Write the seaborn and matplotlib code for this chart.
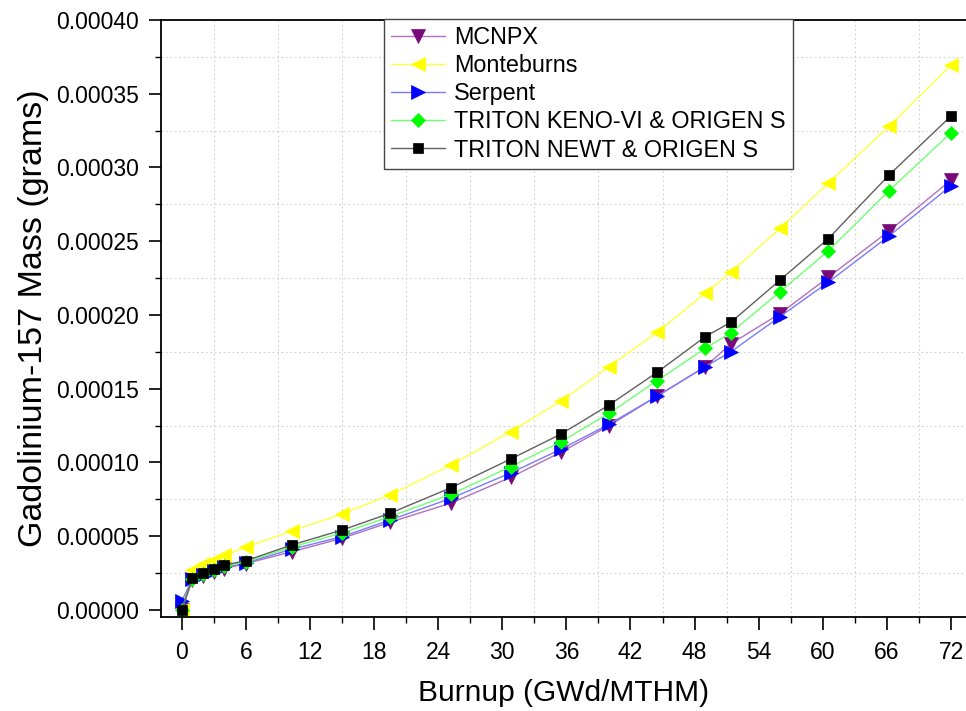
import matplotlib
matplotlib.use("Agg")
import matplotlib.pyplot as plt
import seaborn as sns
import pandas as pd
from matplotlib.ticker import MultipleLocator, FormatStrFormatter

# ---- data ----
burnup = [0, 1, 2, 3, 4, 6, 10.3, 15, 19.5, 25.2, 30.8, 35.5, 40, 44.5, 49, 51.4, 56, 60.5, 66.2, 72]
mcnpx = [0, 2.0e-5, 2.3e-5, 2.55e-5, 2.8e-5, 3.15e-5, 3.95e-5, 4.86e-5, 5.95e-5, 7.25e-5,
         9.0e-5, 1.07e-4, 1.25e-4, 1.45e-4, 1.65e-4, 1.805e-4, 2.01e-4, 2.255e-4, 2.57e-4, 2.915e-4]
monteburns = [0, 2.7e-5, 3.1e-5, 3.4e-5, 3.7e-5, 4.25e-5, 5.36e-5, 6.51e-5, 7.8e-5, 9.83e-5,
              1.209e-4, 1.417e-4, 1.65e-4, 1.883e-4, 2.147e-4, 2.29e-4, 2.588e-4, 2.893e-4, 3.28e-4, 3.695e-4]
serpent = [6e-6, 2.1e-5, 2.4e-5, 2.65e-5, 2.9e-5, 3.2e-5, 4.12e-5, 4.97e-5, 6.1e-5, 7.57e-5,
           9.3e-5, 1.09e-4, 1.26e-4, 1.45e-4, 1.65e-4, 1.751e-4, 1.989e-4, 2.222e-4, 2.536e-4, 2.877e-4]
keno = [0, 2.1e-5, 2.42e-5, 2.7e-5, 2.97e-5, 3.27e-5, 4.27e-5, 5.22e-5, 6.33e-5, 7.84e-5,
        9.72e-5, 1.141e-4, 1.334e-4, 1.555e-4, 1.774e-4, 1.88e-4, 2.158e-4, 2.434e-4, 2.843e-4, 3.236e-4]
newt = [0, 2.15e-5, 2.49e-5, 2.76e-5, 3.05e-5, 3.34e-5, 4.41e-5, 5.42e-5, 6.56e-5, 8.29e-5,
        1.024e-4, 1.193e-4, 1.39e-4, 1.612e-4, 1.853e-4, 1.951e-4, 2.237e-4, 2.517e-4, 2.949e-4, 3.349e-4]

series_names = ["MCNPX", "Monteburns", "Serpent", "TRITON KENO-VI & ORIGEN S", "TRITON NEWT & ORIGEN S"]
series_vals = [mcnpx, monteburns, serpent, keno, newt]

# ---- styling ----
sns.set_style("ticks")
plt.rcParams["font.family"] = ["Liberation Sans", "DejaVu Sans"]
plt.rcParams["text.color"] = "black"
plt.rcParams["axes.labelcolor"] = "black"
plt.rcParams["xtick.color"] = "black"
plt.rcParams["ytick.color"] = "black"

marker_colors = ["#7a0a7a", "#ffff00", "#0000ff", "#00ff00", "#000000"]
line_colors = ["#b070c0", "#ffff40", "#7a7aff", "#70ff70", "#606060"]
markers = ["v", "<", ">", "D", "s"]
msizes = [10.5, 10.5, 10.5, 7.2, 7.7]

fig = plt.figure(figsize=(9.66, 7.11), dpi=100)
ax = fig.add_axes([161 / 966, 1 - 617 / 711, (966 - 161) / 966, (617 - 20) / 711])

for name, vals, mc, lc, mk, ms in zip(series_names, series_vals, marker_colors, line_colors, markers, msizes):
    df = pd.DataFrame({"Burnup": burnup, "Mass": vals})
    sns.lineplot(data=df, x="Burnup", y="Mass", ax=ax, color=lc, lw=1.0,
                 marker=mk, markersize=ms, markerfacecolor=mc, markeredgecolor=mc,
                 markeredgewidth=0.5, label=name, sort=False, estimator=None)

ax.set_xlim(-1.94, 73.4)
ax.set_ylim(-4.75e-6, 0.0004)

ax.xaxis.set_major_locator(MultipleLocator(6))
ax.xaxis.set_minor_locator(MultipleLocator(3))
ax.yaxis.set_major_locator(MultipleLocator(0.00005))
ax.yaxis.set_minor_locator(MultipleLocator(0.000025))
ax.yaxis.set_major_formatter(FormatStrFormatter("%.5f"))

ax.grid(False)
ax.grid(which="minor", linestyle=(0, (1.5, 2.5)), color="#cfcfcf", lw=0.8)
ax.set_axisbelow(True)

for side in ["left", "bottom", "top"]:
    ax.spines[side].set_linewidth(1.3)
    ax.spines[side].set_color("black")
ax.spines["right"].set_visible(False)

ax.tick_params(which="major", direction="out", length=9, width=1.2, labelsize=16.5,
               color="black", labelcolor="black")
ax.tick_params(which="minor", direction="out", length=4.5, width=1.0, color="black")
ax.tick_params(axis="x", which="major", pad=8)
ax.tick_params(axis="y", which="major", pad=7)

ax.set_xlabel("Burnup (GWd/MTHM)", fontsize=21.5, labelpad=11, color="black")
ax.set_ylabel("Gadolinium-157 Mass (grams)", fontsize=24.5, labelpad=5, color="black")

leg = ax.legend(loc="upper left", bbox_to_anchor=(384 / 966, 1 - 19 / 711),
                bbox_transform=fig.transFigure, borderaxespad=0, fontsize=16.8,
                handlelength=2.3, handletextpad=0.4, labelspacing=0.22, borderpad=0.3,
                fancybox=False, framealpha=1, edgecolor="#444444")
leg.get_frame().set_linewidth(1.0)
for t in leg.get_texts():
    t.set_color("black")

fig.savefig("out.png", dpi=100)
